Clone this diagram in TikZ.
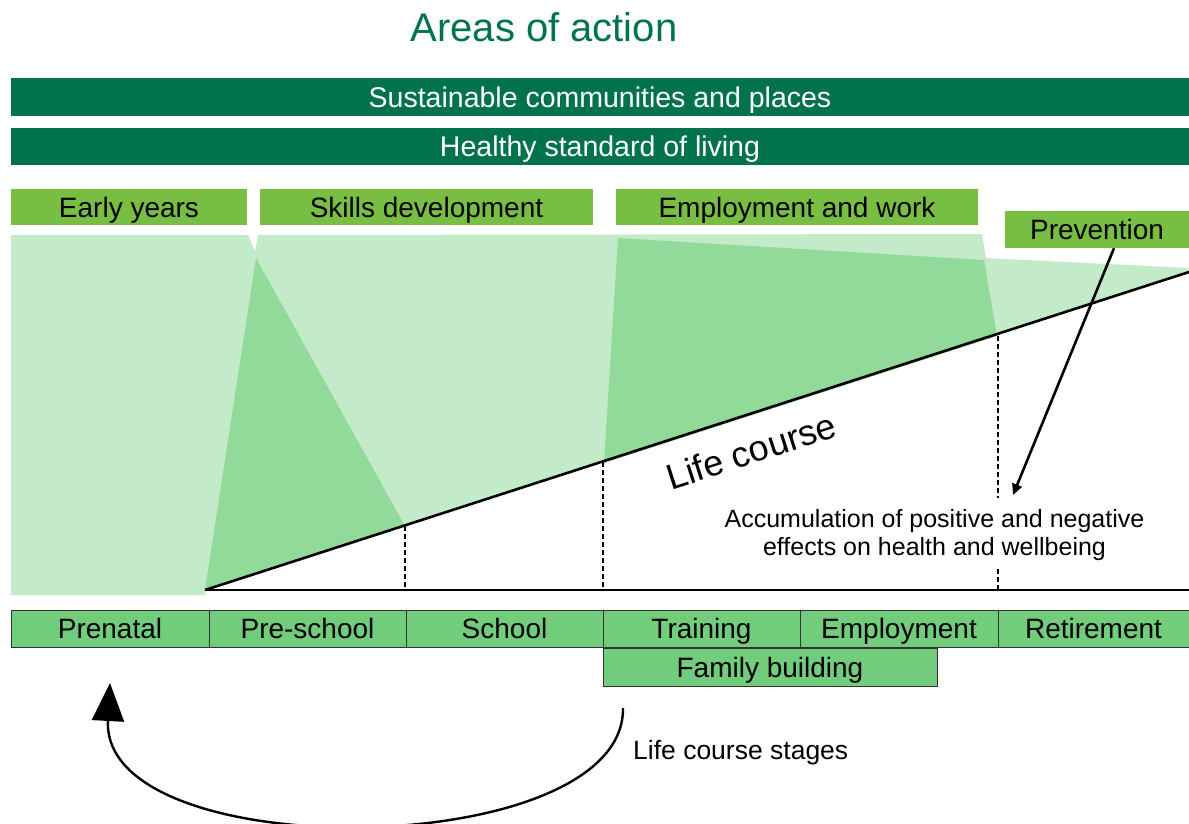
\documentclass[tikz,border=0pt]{standalone}
\usepackage{fontspec}
\setmainfont{Liberation Sans}
\usetikzlibrary{arrows.meta,calc}
\definecolor{darkgr}{RGB}{0,115,77}
\definecolor{grassgr}{RGB}{119,190,67}
\definecolor{lightgr}{RGB}{195,235,201}
\definecolor{midgr}{RGB}{145,218,153}
\definecolor{stagegr}{RGB}{113,204,123}
\tikzset{
  boxtext/.style={inner sep=0pt,anchor=center,text height=20pt,text depth=0pt,font=\fontsize{28}{32}\selectfont},
  areabar/.style={boxtext,fill=darkgr,text=white,font=\fontsize{28.5}{32}\selectfont},
  areabox/.style={boxtext,fill=grassgr,text=black},
  stagebox/.style={boxtext,fill=stagegr,draw=black!80,line width=0.8pt,text=black},
  thickline/.style={line width=2.6pt,black},
  dashline/.style={line width=1.3pt,dash pattern=on 5pt off 3pt},
  plain/.style={font=\fontsize{25}{28.5}\selectfont,align=center,inner sep=0pt},
}
\begin{document}
\begin{tikzpicture}[x=1pt,y=-1pt]
\useasboundingbox (0,0) rectangle (1189,823);
% title
\node[text=darkgr,font=\fontsize{40}{46}\selectfont,inner sep=0pt] (title) at (544,27) {Areas of action};
% area bars
\node[areabar,minimum width=1178pt,minimum height=38pt] (sust) at (600,97) {Sustainable communities and places};
\node[areabar,minimum width=1178pt,minimum height=37pt] (healthy) at (600,146.5) {Healthy standard of living};
% shaded regions
\fill[lightgr] (11,235) -- (248,235) -- (255,251) -- (258,235) -- (982,234) -- (986,258) -- (1189,268) -- (1189,273) -- (205,590) -- (205,595) -- (11,595) -- cycle;
\fill[midgr] (205,590) -- (256,258) -- (405,526) -- cycle;
\fill[midgr] (604,463) -- (618,238) -- (984,260) -- (997,336) -- cycle;
% green area boxes
\node[areabox,minimum width=236pt,minimum height=36pt] (early) at (129,207) {Early years};
\node[areabox,minimum width=333pt,minimum height=36pt] (skills) at (426.5,207) {Skills development};
\node[areabox,minimum width=362pt,minimum height=36pt] (emp) at (797,207) {Employment and work};
\node[areabox,minimum width=184pt,minimum height=37pt] (prev) at (1097,229.5) {Prevention};
% life course lines
\coordinate (o) at (205,590);
\coordinate (lcend) at (1189,272);
\coordinate (baseend) at (1189,590);
\draw[thickline] (o) -- (lcend);
\draw[thickline] (o) -- (baseend);
% dashed markers
\coordinate (d1t) at (405,526); \coordinate (d1b) at (405,590);
\coordinate (d2t) at (603,462); \coordinate (d2b) at (603,590);
\coordinate (d3t) at (998,336); \coordinate (d3m) at (998,498);
\coordinate (d3n) at (998,569); \coordinate (d3b) at (998,590);
\draw[dashline] (d1t) -- (d1b);
\draw[dashline] (d2t) -- (d2b);
\draw[dashline] (d3t) -- (d3m);
\draw[dashline] (d3n) -- (d3b);
% life course label
\node[font=\fontsize{36}{40}\selectfont,rotate=17.8,inner sep=0pt] (lc) at (751,451) {Life course};
% accumulation text
\node[plain] (acc) at (934.5,535) {Accumulation of positive and negative\\effects on health and wellbeing};
% prevention arrow
\coordinate (prevtip) at (1013,495);
\draw[line width=2.6pt,-{Triangle[length=11pt,width=10pt]}] ($(prev.south)+(17,0)$) -- (prevtip);
% stage boxes
\node[stagebox,minimum width=198pt,minimum height=37pt] (prenatal) at (110,628.5) {Prenatal};
\node[stagebox,minimum width=197pt,minimum height=37pt] (preschool) at (307.5,628.5) {Pre-school};
\node[stagebox,minimum width=197pt,minimum height=37pt] (school) at (504.5,628.5) {School};
\node[stagebox,minimum width=197pt,minimum height=37pt] (training) at (701.5,628.5) {Training};
\node[stagebox,minimum width=198pt,minimum height=37pt] (employment) at (899,628.5) {Employment};
\node[stagebox,minimum width=191pt,minimum height=37pt] (retire) at (1093.5,628.5) {Retirement};
\node[stagebox,minimum width=334pt,minimum height=38pt] (family) at (770,667) {Family building};
% cycle arrow
\coordinate (cs) at (623,708);
\coordinate (ce) at (110,683);
\draw[line width=2.4pt,-{Triangle[length=38pt,width=32pt]}] (cs) .. controls (625,862) and (100,868) .. (ce);
\node[plain,anchor=west,font=\fontsize{26.5}{30}\selectfont] (stages) at (633,753) {Life course stages};
\end{tikzpicture}
\end{document}
